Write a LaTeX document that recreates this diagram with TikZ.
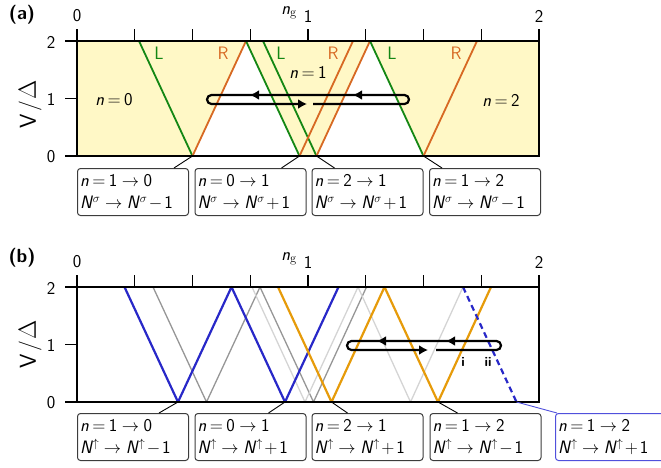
\documentclass[tikz,border=0pt]{standalone}
\usepackage{fontspec}
\usetikzlibrary{arrows.meta,calc}
\definecolor{cgreen}{RGB}{20,135,20}
\definecolor{corange}{RGB}{215,105,35}
\definecolor{cyellow}{RGB}{255,248,198}
\definecolor{cblue}{RGB}{40,40,200}
\definecolor{cgold}{RGB}{230,155,10}
\definecolor{cgray}{RGB}{150,150,150}
\definecolor{clight}{RGB}{212,212,212}
\definecolor{cbox}{RGB}{60,60,60}
\definecolor{cboxblue}{RGB}{80,80,220}
\newcommand\bxfont{\sffamily\fontsize{18}{22}\selectfont}
\newcommand\lbfont{\sffamily\fontsize{18}{21}\selectfont}
\newcommand\myarr{\kern4.5pt$\rightarrow$\kern4.5pt}
\newcommand\mymin{\kern1.5pt$-$\kern2pt}
\newcommand\myplus{\kern1.5pt+\kern2pt}
\newcommand\myeq{\kern3.5pt=\kern3.5pt}
\tikzset{
  axis/.style={line width=1.4pt, line cap=rect},
  tick/.style={line width=1.4pt},
  lineA/.style={line width=1.8pt},
  lineB/.style={line width=1.3pt, line join=round},
  lineBB/.style={line width=2.2pt, line join=round},
  looppath/.style={line width=2.2pt, rounded corners=4.5pt},
  looptip/.style={line width=2.2pt, -{Latex[length=9pt,width=10pt]}},
  infobox/.style={draw=cbox, line width=1pt, rounded corners=3pt, anchor=north west,
    minimum width=111pt, minimum height=47pt, inner xsep=2.5pt, inner ysep=2pt, align=left,
    text width=106pt, font=\bxfont},
  conn/.style={line width=0.9pt},
  lbl/.style={font=\lbfont, inner sep=0pt},
  vlbl/.style={font=\sffamily\fontsize{23}{26}\selectfont, inner sep=0pt, rotate=90},
  panel/.style={font=\sffamily\bfseries\fontsize{19}{22}\selectfont, inner sep=0pt},
  smalllbl/.style={font=\sffamily\bfseries\fontsize{13.5}{15}\selectfont, inner sep=0pt},
}
\begin{document}
\begin{tikzpicture}[x=1pt,y=-1pt]
\useasboundingbox (0,0) rectangle (661,467);
% ================= panel (a) =================
\fill[cyellow] (77,41) rectangle (539,156);
\fill[white] (192.5,156) -- (246,41) -- (299.5,156) -- cycle;
\fill[white] (316.5,156) -- (370,41) -- (423.5,156) -- cycle;
\draw[lineA,cgreen] (139,41) -- (192.5,156);
\draw[lineA,corange] (192.5,156) -- (246,41);
\draw[lineA,cgreen] (246,41) -- (299.5,156);
\draw[lineA,cgreen] (263,41) -- (316.5,156);
\draw[lineA,corange] (299.5,156) -- (353,41);
\draw[lineA,corange] (316.5,156) -- (370,41);
\draw[lineA,cgreen] (370,41) -- (423.5,156);
\draw[lineA,corange] (423.5,156) -- (477,41);
% loop
\draw[looppath] (313,104) -- (409,104) -- (409,95) -- (207,95) -- (207,104) -- (300,104);
\draw[looptip] (296,104) -- (307,104);
\draw[looptip] (262,95) -- (250,95);
\draw[looptip] (365,95) -- (353,95);
% frame and ticks
\draw[axis] (77,41) rectangle (539,156);
\foreach \k in {0,...,8} \draw[tick] (77+57.75*\k,41) -- ++(0,-12);
\foreach \yy in {41,98.5,156} \draw[tick] (77,\yy) -- ++(-12,0);
\node[lbl] (ta0) at (77,16) {0};
\node[lbl] (ta1) at (308,16) {1};
\node[lbl] (ta2) at (539,16) {2};
\node[lbl,anchor=east] (tang) at (297,13) {\textit{n}$_{\mathrm{g}}$};
\node[lbl] (la2) at (51,42) {2};
\node[lbl] (la1) at (51,99) {1};
\node[lbl] (la0) at (51,157) {0};
\node[vlbl] (lav) at (30,104) {V\kern2pt/\kern2pt$\Delta$};
\node[panel] (pa) at (22,15) {(a)};
% L / R labels
\node[lbl,text=cgreen] (L1) at (159,53) {L};
\node[lbl,text=corange] (R1) at (223,53) {R};
\node[lbl,text=cgreen] (L2) at (281,53) {L};
\node[lbl,text=corange] (R2) at (333,53) {R};
\node[lbl,text=cgreen] (L3) at (392,53) {L};
\node[lbl,text=corange] (R3) at (456,53) {R};
\node[lbl] (na0) at (114,100) {\textit{n}\myeq 0};
\node[lbl] (na1) at (308,72) {\textit{n}\myeq 1};
\node[lbl] (na2) at (501,100) {\textit{n}\myeq 2};
% boxes
\node[infobox] (ba1) at (77,168) {\textit{n}\myeq 1\myarr 0\\\textit{N}$^\sigma$\myarr\textit{N}$^\sigma$\mymin 1};
\node[infobox] (ba2) at (194.5,168) {\textit{n}\myeq 0\myarr 1\\\textit{N}$^\sigma$\myarr\textit{N}$^\sigma$\myplus 1};
\node[infobox] (ba3) at (311.5,168) {\textit{n}\myeq 2\myarr 1\\\textit{N}$^\sigma$\myarr\textit{N}$^\sigma$\myplus 1};
\node[infobox] (ba4) at (429,168) {\textit{n}\myeq 1\myarr 2\\\textit{N}$^\sigma$\myarr\textit{N}$^\sigma$\mymin 1};
\coordinate (ca1) at (192.5,156);
\coordinate (ca2) at (299.5,156);
\coordinate (ca3) at (316.5,156);
\coordinate (ca4) at (423.5,156);
\draw[conn] (ca1) -- ([xshift=-15pt]ba1.north east);
\draw[conn] (ca2) -- ([xshift=-25pt]ba2.north east);
\draw[conn] (ca3) -- ([xshift=23pt]ba3.north west);
\draw[conn] (ca4) -- ([xshift=13pt]ba4.north west);
% ================= panel (b) =================
\draw[lineB,cgray] (153,287) -- (206.5,402) -- (260,287) -- (313.5,402) -- (366.5,287);
\draw[lineB,clight] (252,287) -- (305,402) -- (358,287) -- (410.5,402) -- (463,287);
\draw[lineBB,cblue] (124.5,287) -- (178,402) -- (231.5,287) -- (285,402) -- (338.5,287);
\draw[lineBB,cgold] (278,287) -- (331.5,402) -- (384.5,287) -- (438,402) -- (491,287);
\draw[lineBB,cblue,dash pattern=on 6pt off 4pt] (463,287) -- (516.5,402);
% loop
\draw[looppath] (436,350) -- (501,350) -- (501,341) -- (347,341) -- (347,350) -- (421,350);
\draw[looptip] (417,350) -- (428,350);
\draw[looptip] (389,341) -- (377,341);
\draw[looptip] (458,341) -- (446,341);
\node[smalllbl] (ni) at (463,362) {i};
\node[smalllbl] (nii) at (488,362) {ii};
% frame and ticks
\draw[axis] (77,287) rectangle (539,402);
\foreach \k in {0,...,8} \draw[tick] (77+57.75*\k,287) -- ++(0,-12);
\foreach \yy in {287,344.5,402} \draw[tick] (77,\yy) -- ++(-12,0);
\node[lbl] (tb0) at (77,262) {0};
\node[lbl] (tb1) at (308,262) {1};
\node[lbl] (tb2) at (539,262) {2};
\node[lbl,anchor=east] (tbng) at (297,259) {\textit{n}$_{\mathrm{g}}$};
\node[lbl] (lb2) at (51,288) {2};
\node[lbl] (lb1) at (51,345) {1};
\node[lbl] (lb0) at (51,403) {0};
\node[vlbl] (lbv) at (30,344) {V\kern2pt/\kern2pt$\Delta$};
\node[panel] (pb) at (22,258) {(b)};
% boxes
\node[infobox] (bb1) at (77,413) {\textit{n}\myeq 1\myarr 0\\\textit{N}$^\uparrow$\myarr\textit{N}$^\uparrow$\mymin 1};
\node[infobox] (bb2) at (194.5,413) {\textit{n}\myeq 0\myarr 1\\\textit{N}$^\uparrow$\myarr\textit{N}$^\uparrow$\myplus 1};
\node[infobox] (bb3) at (311.5,413) {\textit{n}\myeq 2\myarr 1\\\textit{N}$^\uparrow$\myarr\textit{N}$^\uparrow$\myplus 1};
\node[infobox] (bb4) at (429.5,413) {\textit{n}\myeq 1\myarr 2\\\textit{N}$^\uparrow$\myarr\textit{N}$^\uparrow$\mymin 1};
\node[infobox,draw=cboxblue] (bb5) at (555,413) {\textit{n}\myeq 1\myarr 2\\\textit{N}$^\uparrow$\myarr\textit{N}$^\uparrow$\myplus 1};
\coordinate (cb1) at (178,402);
\coordinate (cb2) at (285,402);
\coordinate (cb3) at (331.5,402);
\coordinate (cb4) at (438,402);
\coordinate (cb5) at (516.5,402);
\draw[conn] (cb1) -- ([xshift=-30pt]bb1.north east);
\draw[conn] (cb2) -- ([xshift=-38pt]bb2.north east);
\draw[conn] (cb3) -- ([xshift=36pt]bb3.north west);
\draw[conn] (cb4) -- ([xshift=28pt]bb4.north west);
\draw[conn,cboxblue] (cb5) -- ([xshift=2pt]bb5.north west);
\end{tikzpicture}
\end{document}
